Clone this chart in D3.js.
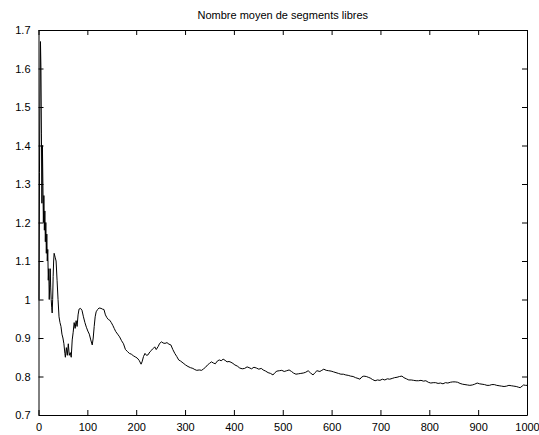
<!DOCTYPE html>
<html>
<head>
<meta charset="utf-8">
<script src="https://cdn.jsdelivr.net/npm/d3@7"></script>
<style>
  body { margin: 0; background: #fff; }
  svg { display: block; font-family: "Liberation Sans", Arial, Helvetica, sans-serif; }
</style>
</head>
<body>
<svg width="539" height="435"></svg>
<script>
const titleText = 'Nombre moyen de segments libres'

// x values (iteration) and y values (running mean)
const steps = [1,2,3,4,5,6,7,8,9,10,11,12,13,14,15,16,17,18,19,20,21,22,23,24,25,26,27,28,29,30,31,32,34,36,38,40,42,44,46,48,50,52,54,55,57,59,61,63,65,67,69,71,73,75,77,79,81,83,86,89,92,95,98,101,104,107,110,112,114,116,118,121,124,128,131,134,137,140,143,146,149,152,155,158,162,166,170,174,178,182,186,190,194,198,202,206,210,212,215,218,221,224,228,232,235,238,241,245,248,252,255,259,263,267,271,275,279,283,287,291,296,301,306,311,316,320,324,329,334,338,342,346,350,354,358,362,366,370,374,378,382,386,390,394,398,402,407,412,417,422,427,431,436,441,446,451,456,460,465,470,475,480,484,488,493,498,503,508,513,518,522,527,532,537,542,547,552,557,562,566,570,576,580,584,589,594,599,604,609,614,619,624,629,634,639,644,649,654,658,662,666,671,675,679,684,689,694,699,704,709,714,719,724,729,734,739,744,748,753,758,763,768,773,778,783,788,793,798,803,808,813,818,823,828,833,838,843,848,853,858,863,868,873,878,883,888,893,898,903,908,913,918,923,928,933,938,943,948,953,958,963,968,973,978,983,986,990,993,997,1000]
const meanFree = [1.00,1.33,1.50,1.67,1.60,1.43,1.25,1.40,1.30,1.20,1.27,1.18,1.23,1.15,1.20,1.12,1.17,1.10,1.13,1.05,1.08,1.00,1.04,1.08,1.03,1.00,0.98,0.965,1.00,1.06,1.10,1.12,1.11,1.10,1.05,1.00,0.955,0.94,0.93,0.91,0.90,0.885,0.86,0.85,0.875,0.855,0.885,0.855,0.862,0.85,0.895,0.915,0.94,0.925,0.945,0.93,0.96,0.975,0.977,0.972,0.955,0.94,0.928,0.918,0.91,0.895,0.882,0.90,0.93,0.955,0.968,0.974,0.978,0.977,0.975,0.974,0.96,0.953,0.948,0.946,0.94,0.933,0.925,0.917,0.91,0.903,0.893,0.885,0.87,0.865,0.86,0.858,0.854,0.851,0.848,0.842,0.832,0.838,0.852,0.86,0.855,0.856,0.864,0.869,0.873,0.877,0.87,0.878,0.886,0.89,0.887,0.886,0.888,0.884,0.882,0.87,0.86,0.852,0.843,0.84,0.835,0.83,0.826,0.823,0.821,0.818,0.816,0.817,0.816,0.82,0.824,0.83,0.834,0.838,0.835,0.833,0.84,0.843,0.841,0.845,0.842,0.838,0.839,0.837,0.834,0.83,0.827,0.822,0.82,0.821,0.825,0.823,0.82,0.824,0.822,0.819,0.821,0.817,0.814,0.81,0.808,0.804,0.81,0.814,0.815,0.816,0.813,0.815,0.817,0.813,0.809,0.806,0.807,0.808,0.809,0.811,0.815,0.809,0.804,0.81,0.815,0.813,0.816,0.819,0.816,0.815,0.814,0.812,0.81,0.808,0.806,0.806,0.804,0.803,0.801,0.80,0.797,0.795,0.793,0.799,0.801,0.80,0.798,0.796,0.792,0.789,0.791,0.79,0.793,0.791,0.794,0.793,0.795,0.797,0.798,0.80,0.801,0.797,0.794,0.791,0.791,0.79,0.789,0.789,0.79,0.788,0.789,0.785,0.783,0.784,0.784,0.782,0.783,0.781,0.784,0.783,0.785,0.786,0.786,0.785,0.782,0.78,0.779,0.778,0.777,0.778,0.78,0.783,0.781,0.78,0.779,0.777,0.777,0.779,0.779,0.777,0.776,0.775,0.774,0.775,0.777,0.776,0.775,0.774,0.772,0.771,0.775,0.778,0.777,0.777]

const xTicks = [0,100,200,300,400,500,600,700,800,900,1000]
const yTicks = [0.7,0.8,0.9,1,1.1,1.2,1.3,1.4,1.5,1.6,1.7]

const svg = d3.select('svg')
const plotLeft = 38.5, plotRight = 527, plotTop = 30, plotBottom = 415

const x = d3.scaleLinear().domain([0, 1000]).range([plotLeft, plotRight])
const y = d3.scaleLinear().domain([0.7, 1.7]).range([plotBottom, plotTop])

const data = steps.map((s, i) => ({ s: s, v: meanFree[i] }))

// curve
svg.append('path')
  .datum(data)
  .attr('fill', 'none')
  .attr('stroke', '#000')
  .attr('stroke-width', 1)
  .attr('d', d3.line().x(d => x(d.s)).y(d => y(d.v)))

// axes, MATLAB style: ticks inward on all four sides
const fmt = d => String(d)
const tick = 5

svg.append('g')
  .attr('transform', `translate(0,${plotBottom})`)
  .call(d3.axisBottom(x).tickValues(xTicks).tickFormat(fmt).tickSizeInner(-tick).tickSizeOuter(0).tickPadding(8))
svg.append('g')
  .attr('transform', `translate(0,${plotTop})`)
  .call(d3.axisTop(x).tickValues(xTicks).tickFormat('').tickSizeInner(-tick).tickSizeOuter(0))
svg.append('g')
  .attr('transform', `translate(${plotLeft},0)`)
  .call(d3.axisLeft(y).tickValues(yTicks).tickFormat(fmt).tickSizeInner(-tick).tickSizeOuter(0).tickPadding(8))
svg.append('g')
  .attr('transform', `translate(${plotRight},0)`)
  .call(d3.axisRight(y).tickValues(yTicks).tickFormat('').tickSizeInner(-tick).tickSizeOuter(0))

svg.selectAll('.domain, .tick line').attr('stroke', '#000')
svg.selectAll('.tick text')
  .attr('fill', '#000')
  .style('font-size', '11px')
  .style('font-family', '"Liberation Sans", Arial, Helvetica, sans-serif')

// title
svg.append('text')
  .attr('x', (plotLeft + plotRight) / 2)
  .attr('y', 19)
  .attr('text-anchor', 'middle')
  .style('font-size', '11px')
  .text(titleText)
</script>
</body>
</html>
